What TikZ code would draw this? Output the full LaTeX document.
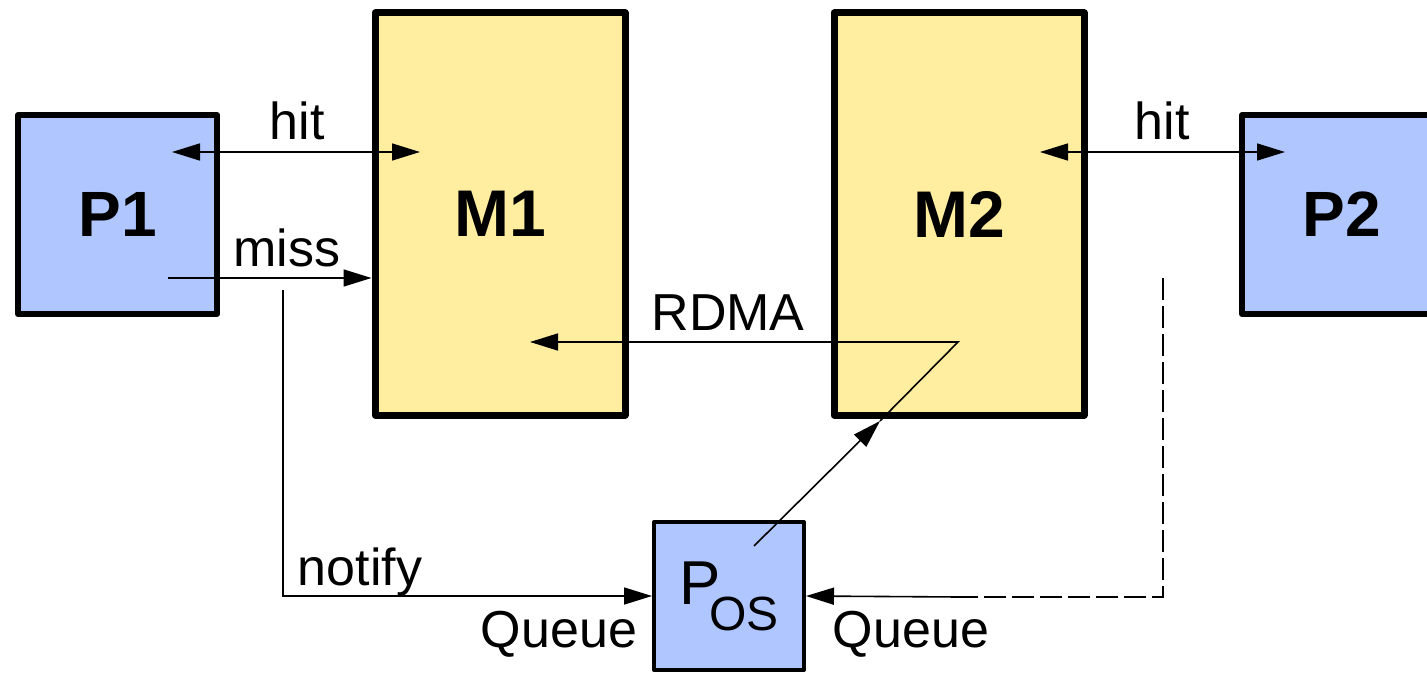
\documentclass[tikz,border=0pt]{standalone}
\usepackage{fontspec}
\setmainfont{Liberation Sans}
\usetikzlibrary{arrows.meta}
\definecolor{procblue}{RGB}{176,198,255}
\definecolor{memyellow}{RGB}{255,238,160}
\begin{document}
\begin{tikzpicture}[x=0.5pt,y=-0.5pt,
    proc/.style={draw, fill=procblue, line width=3pt, line join=round, inner sep=0pt,
      minimum width=99.5pt, minimum height=99.5pt, font=\fontsize{32}{32}\selectfont\bfseries},
    mem/.style={draw, fill=memyellow, line width=3.5pt, line join=round, inner sep=0pt,
      minimum width=125pt, minimum height=201pt, font=\fontsize{33}{33}\selectfont\bfseries},
    osproc/.style={draw, fill=procblue, line width=2pt, line join=round, inner sep=0pt,
      minimum width=75pt, minimum height=74pt},
    lbl/.style={anchor=base, font=\fontsize{26}{26}\selectfont},
    conn/.style={line width=0.8pt, -{Triangle[length=14pt,width=8.5pt]}},
    biconn/.style={line width=0.8pt, {Triangle[length=14pt,width=8.5pt]}-{Triangle[length=14pt,width=8.5pt]}},
    dashconn/.style={line width=0.8pt, dash pattern=on 11pt off 3pt}]

    \useasboundingbox (0,0) rectangle (1427,674);

    \node[proc] (p1) at (117.5,214.5) {P1};
    \node[mem] (m1) at (500,214) {M1};
    \node[mem] (m2) at (959,214) {M2};
    \node[proc] (p2) at (1341.5,214.5) {P2};
    \node[osproc] (pos) at (729,596) {\fontsize{31}{31}\selectfont P\hspace{-6pt}\raisebox{-13pt}{\fontsize{24}{24}\selectfont OS}};

    \coordinate (hitA) at (172,152);
    \coordinate (hitB) at (420,152);
    \coordinate (missA) at (168,278);
    \coordinate (notA) at (283,290);
    \coordinate (rdmaA) at (958,342);
    \coordinate (rdmaB) at (530,342);
    \coordinate (osA) at (754,546);
    \coordinate (osB) at (880,421);
    \coordinate (hitC) at (1040,152);
    \coordinate (hitD) at (1285,152);
    \coordinate (dashA) at (1163,278);
    \coordinate (dashB) at (960,597);

    \draw[biconn] (hitA) -- (hitB);
    \draw[conn] (missA) -- (missA -| m1.west);
    \draw[conn] (notA) |- (pos.west);
    \draw[conn] (osA) -- (osB);
    \draw[conn] (osB) -- (rdmaA) -- (rdmaB);
    \draw[biconn] (hitC) -- (hitD);
    \draw[dashconn] (dashA) |- (dashB);
    \draw[conn] (dashB) -- (pos.east);

    \node[lbl] (lhit1) at (297,140) {hit};
    \node[lbl] (lmiss) at (287,266) {miss};
    \node[lbl] (lrdma) at (728,330) {RDMA};
    \node[lbl] (lhit2) at (1162,140) {hit};
    \node[lbl] (lnotify) at (360,585) {notify};
    \node[lbl] (lqueue1) at (559,647) {Queue};
    \node[lbl] (lqueue2) at (911,647) {Queue};

\end{tikzpicture}
\end{document}
